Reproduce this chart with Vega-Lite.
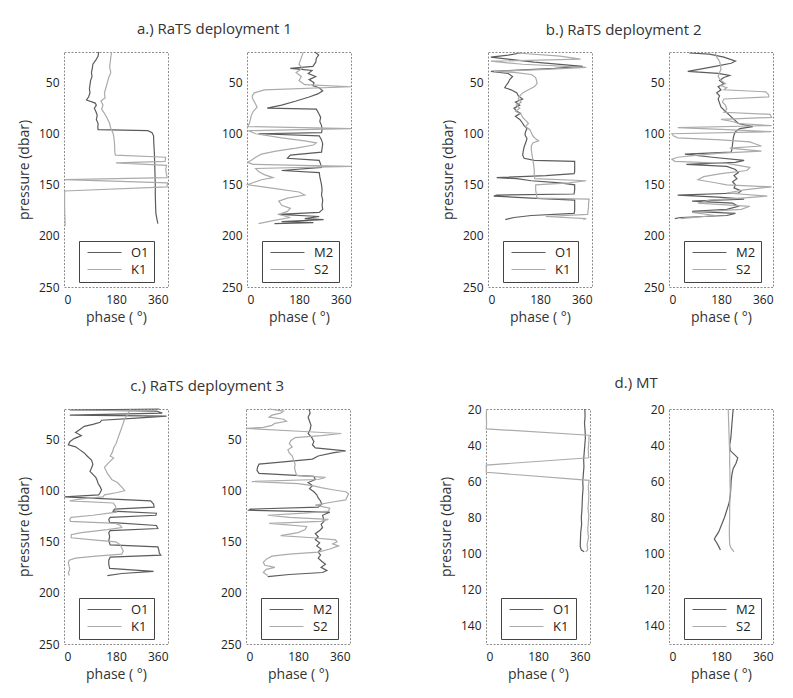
{
"$schema": "https://vega.github.io/schema/vega-lite/v6.json",
"background": "white",
"padding": {"left": 16, "top": 22, "right": 5, "bottom": 5},
"datasets": {
"aL": [
{"tide":"O1","pressure":20,"phase":120},{"tide":"O1","pressure":24,"phase":118},{"tide":"O1","pressure":28,"phase":110},{"tide":"O1","pressure":32,"phase":100},{"tide":"O1","pressure":36,"phase":98},{"tide":"O1","pressure":40,"phase":95},{"tide":"O1","pressure":44,"phase":97},{"tide":"O1","pressure":48,"phase":92},{"tide":"O1","pressure":52,"phase":90},{"tide":"O1","pressure":56,"phase":88},{"tide":"O1","pressure":60,"phase":90},{"tide":"O1","pressure":64,"phase":85},{"tide":"O1","pressure":67,"phase":78},{"tide":"O1","pressure":70,"phase":108},{"tide":"O1","pressure":72,"phase":112},{"tide":"O1","pressure":75,"phase":105},{"tide":"O1","pressure":78,"phase":110},{"tide":"O1","pressure":82,"phase":115},{"tide":"O1","pressure":86,"phase":112},{"tide":"O1","pressure":90,"phase":118},{"tide":"O1","pressure":94,"phase":117},{"tide":"O1","pressure":96,"phase":118},{"tide":"O1","pressure":97,"phase":290},{"tide":"O1","pressure":99,"phase":305},{"tide":"O1","pressure":102,"phase":310},{"tide":"O1","pressure":110,"phase":311},{"tide":"O1","pressure":120,"phase":313},{"tide":"O1","pressure":130,"phase":314},{"tide":"O1","pressure":140,"phase":315},{"tide":"O1","pressure":150,"phase":316},{"tide":"O1","pressure":160,"phase":316},{"tide":"O1","pressure":170,"phase":317},{"tide":"O1","pressure":178,"phase":318},{"tide":"O1","pressure":184,"phase":322},{"tide":"O1","pressure":188,"phase":325},
{"tide":"K1","pressure":20,"phase":165},{"tide":"K1","pressure":25,"phase":162},{"tide":"K1","pressure":30,"phase":160},{"tide":"K1","pressure":35,"phase":158},{"tide":"K1","pressure":40,"phase":162},{"tide":"K1","pressure":45,"phase":155},{"tide":"K1","pressure":50,"phase":150},{"tide":"K1","pressure":55,"phase":145},{"tide":"K1","pressure":60,"phase":140},{"tide":"K1","pressure":65,"phase":142},{"tide":"K1","pressure":68,"phase":128},{"tide":"K1","pressure":72,"phase":135},{"tide":"K1","pressure":76,"phase":130},{"tide":"K1","pressure":80,"phase":140},{"tide":"K1","pressure":85,"phase":150},{"tide":"K1","pressure":90,"phase":158},{"tide":"K1","pressure":95,"phase":162},{"tide":"K1","pressure":98,"phase":168},{"tide":"K1","pressure":102,"phase":172},{"tide":"K1","pressure":110,"phase":175},{"tide":"K1","pressure":118,"phase":176},{"tide":"K1","pressure":121,"phase":178},{"tide":"K1","pressure":123,"phase":352},{"tide":"K1","pressure":127,"phase":350},{"tide":"K1","pressure":128.5,"phase":180},{"tide":"K1","pressure":131,"phase":355},{"tide":"K1","pressure":135,"phase":352},{"tide":"K1","pressure":140,"phase":355},{"tide":"K1","pressure":143,"phase":357},{"tide":"K1","pressure":145,"phase":2},{"tide":"K1","pressure":148,"phase":358},{"tide":"K1","pressure":152,"phase":357},{"tide":"K1","pressure":156,"phase":3},{"tide":"K1","pressure":160,"phase":2},{"tide":"K1","pressure":170,"phase":2},{"tide":"K1","pressure":180,"phase":3},{"tide":"K1","pressure":190,"phase":4}
],
"aR": [
{"tide":"M2","pressure":20,"phase":235},{"tide":"M2","pressure":23,"phase":248},{"tide":"M2","pressure":26,"phase":240},{"tide":"M2","pressure":30,"phase":238},{"tide":"M2","pressure":34,"phase":228},{"tide":"M2","pressure":36,"phase":150},{"tide":"M2","pressure":38,"phase":225},{"tide":"M2","pressure":41,"phase":212},{"tide":"M2","pressure":44,"phase":238},{"tide":"M2","pressure":47,"phase":215},{"tide":"M2","pressure":50,"phase":232},{"tide":"M2","pressure":53,"phase":228},{"tide":"M2","pressure":55,"phase":250},{"tide":"M2","pressure":58,"phase":262},{"tide":"M2","pressure":61,"phase":245},{"tide":"M2","pressure":64,"phase":215},{"tide":"M2","pressure":68,"phase":170},{"tide":"M2","pressure":72,"phase":120},{"tide":"M2","pressure":75,"phase":70},{"tide":"M2","pressure":76,"phase":240},{"tide":"M2","pressure":80,"phase":248},{"tide":"M2","pressure":84,"phase":255},{"tide":"M2","pressure":88,"phase":252},{"tide":"M2","pressure":92,"phase":258},{"tide":"M2","pressure":96,"phase":260},{"tide":"M2","pressure":99,"phase":258},{"tide":"M2","pressure":100,"phase":40},{"tide":"M2","pressure":102,"phase":250},{"tide":"M2","pressure":106,"phase":258},{"tide":"M2","pressure":110,"phase":262},{"tide":"M2","pressure":114,"phase":260},{"tide":"M2","pressure":118,"phase":258},{"tide":"M2","pressure":121,"phase":150},{"tide":"M2","pressure":124,"phase":140},{"tide":"M2","pressure":126,"phase":250},{"tide":"M2","pressure":130,"phase":255},{"tide":"M2","pressure":133,"phase":258},{"tide":"M2","pressure":136,"phase":120},{"tide":"M2","pressure":138,"phase":250},{"tide":"M2","pressure":142,"phase":252},{"tide":"M2","pressure":146,"phase":255},{"tide":"M2","pressure":150,"phase":258},{"tide":"M2","pressure":155,"phase":260},{"tide":"M2","pressure":160,"phase":258},{"tide":"M2","pressure":165,"phase":262},{"tide":"M2","pressure":170,"phase":260},{"tide":"M2","pressure":174,"phase":262},{"tide":"M2","pressure":177,"phase":250},{"tide":"M2","pressure":179,"phase":110},{"tide":"M2","pressure":181,"phase":250},{"tide":"M2","pressure":183,"phase":200},{"tide":"M2","pressure":184,"phase":265},{"tide":"M2","pressure":186,"phase":120},{"tide":"M2","pressure":187,"phase":230},{"tide":"M2","pressure":188,"phase":95},
{"tide":"S2","pressure":20,"phase":195},{"tide":"S2","pressure":24,"phase":190},{"tide":"S2","pressure":28,"phase":185},{"tide":"S2","pressure":32,"phase":180},{"tide":"S2","pressure":36,"phase":192},{"tide":"S2","pressure":40,"phase":170},{"tide":"S2","pressure":44,"phase":188},{"tide":"S2","pressure":48,"phase":180},{"tide":"S2","pressure":52,"phase":200},{"tide":"S2","pressure":54,"phase":360},{"tide":"S2","pressure":57,"phase":60},{"tide":"S2","pressure":60,"phase":25},{"tide":"S2","pressure":63,"phase":18},{"tide":"S2","pressure":66,"phase":20},{"tide":"S2","pressure":70,"phase":28},{"tide":"S2","pressure":74,"phase":35},{"tide":"S2","pressure":78,"phase":22},{"tide":"S2","pressure":82,"phase":15},{"tide":"S2","pressure":86,"phase":12},{"tide":"S2","pressure":90,"phase":8},{"tide":"S2","pressure":93,"phase":2},{"tide":"S2","pressure":95,"phase":360},{"tide":"S2","pressure":97,"phase":5},{"tide":"S2","pressure":100,"phase":30},{"tide":"S2","pressure":104,"phase":120},{"tide":"S2","pressure":107,"phase":200},{"tide":"S2","pressure":109,"phase":240},{"tide":"S2","pressure":111,"phase":230},{"tide":"S2","pressure":114,"phase":170},{"tide":"S2","pressure":117,"phase":100},{"tide":"S2","pressure":120,"phase":50},{"tide":"S2","pressure":123,"phase":30},{"tide":"S2","pressure":126,"phase":15},{"tide":"S2","pressure":128,"phase":3},{"tide":"S2","pressure":130,"phase":20},{"tide":"S2","pressure":132,"phase":360},{"tide":"S2","pressure":134,"phase":30},{"tide":"S2","pressure":137,"phase":40},{"tide":"S2","pressure":140,"phase":60},{"tide":"S2","pressure":143,"phase":90},{"tide":"S2","pressure":145,"phase":50},{"tide":"S2","pressure":148,"phase":20},{"tide":"S2","pressure":150,"phase":2},{"tide":"S2","pressure":153,"phase":80},{"tide":"S2","pressure":157,"phase":180},{"tide":"S2","pressure":160,"phase":200},{"tide":"S2","pressure":163,"phase":140},{"tide":"S2","pressure":166,"phase":110},{"tide":"S2","pressure":170,"phase":120},{"tide":"S2","pressure":173,"phase":150},{"tide":"S2","pressure":176,"phase":140},{"tide":"S2","pressure":179,"phase":110},{"tide":"S2","pressure":182,"phase":150},{"tide":"S2","pressure":185,"phase":90},{"tide":"S2","pressure":188,"phase":40}
],
"bL": [
{"tide":"O1","pressure":21,"phase":112},{"tide":"O1","pressure":23,"phase":70},{"tide":"O1","pressure":25,"phase":10},{"tide":"O1","pressure":30,"phase":160},{"tide":"O1","pressure":34,"phase":328},{"tide":"O1","pressure":36,"phase":230},{"tide":"O1","pressure":39,"phase":10},{"tide":"O1","pressure":41,"phase":70},{"tide":"O1","pressure":44,"phase":85},{"tide":"O1","pressure":47,"phase":75},{"tide":"O1","pressure":50,"phase":70},{"tide":"O1","pressure":53,"phase":62},{"tide":"O1","pressure":55,"phase":58},{"tide":"O1","pressure":57,"phase":80},{"tide":"O1","pressure":60,"phase":100},{"tide":"O1","pressure":63,"phase":105},{"tide":"O1","pressure":66,"phase":120},{"tide":"O1","pressure":69,"phase":95},{"tide":"O1","pressure":72,"phase":110},{"tide":"O1","pressure":75,"phase":90},{"tide":"O1","pressure":78,"phase":100},{"tide":"O1","pressure":80,"phase":112},{"tide":"O1","pressure":83,"phase":95},{"tide":"O1","pressure":86,"phase":110},{"tide":"O1","pressure":89,"phase":118},{"tide":"O1","pressure":92,"phase":125},{"tide":"O1","pressure":95,"phase":135},{"tide":"O1","pressure":98,"phase":130},{"tide":"O1","pressure":101,"phase":128},{"tide":"O1","pressure":105,"phase":135},{"tide":"O1","pressure":109,"phase":130},{"tide":"O1","pressure":113,"phase":125},{"tide":"O1","pressure":117,"phase":122},{"tide":"O1","pressure":121,"phase":120},{"tide":"O1","pressure":124,"phase":125},{"tide":"O1","pressure":126,"phase":160},{"tide":"O1","pressure":127,"phase":300},{"tide":"O1","pressure":132,"phase":300},{"tide":"O1","pressure":137,"phase":300},{"tide":"O1","pressure":139,"phase":298},{"tide":"O1","pressure":141,"phase":200},{"tide":"O1","pressure":143,"phase":30},{"tide":"O1","pressure":144,"phase":100},{"tide":"O1","pressure":146,"phase":150},{"tide":"O1","pressure":148,"phase":250},{"tide":"O1","pressure":150,"phase":300},{"tide":"O1","pressure":155,"phase":300},{"tide":"O1","pressure":159,"phase":298},{"tide":"O1","pressure":160,"phase":30},{"tide":"O1","pressure":161,"phase":20},{"tide":"O1","pressure":163,"phase":150},{"tide":"O1","pressure":165,"phase":300},{"tide":"O1","pressure":170,"phase":300},{"tide":"O1","pressure":175,"phase":300},{"tide":"O1","pressure":178,"phase":298},{"tide":"O1","pressure":180,"phase":150},{"tide":"O1","pressure":182,"phase":90},{"tide":"O1","pressure":184,"phase":60},
{"tide":"K1","pressure":21,"phase":100},{"tide":"K1","pressure":24,"phase":250},{"tide":"K1","pressure":27,"phase":320},{"tide":"K1","pressure":29,"phase":10},{"tide":"K1","pressure":32,"phase":120},{"tide":"K1","pressure":35,"phase":340},{"tide":"K1","pressure":37,"phase":200},{"tide":"K1","pressure":39,"phase":20},{"tide":"K1","pressure":40,"phase":90},{"tide":"K1","pressure":42,"phase":150},{"tide":"K1","pressure":45,"phase":165},{"tide":"K1","pressure":48,"phase":168},{"tide":"K1","pressure":51,"phase":170},{"tide":"K1","pressure":54,"phase":160},{"tide":"K1","pressure":57,"phase":140},{"tide":"K1","pressure":60,"phase":120},{"tide":"K1","pressure":63,"phase":110},{"tide":"K1","pressure":66,"phase":105},{"tide":"K1","pressure":69,"phase":115},{"tide":"K1","pressure":72,"phase":98},{"tide":"K1","pressure":75,"phase":110},{"tide":"K1","pressure":78,"phase":95},{"tide":"K1","pressure":81,"phase":115},{"tide":"K1","pressure":84,"phase":120},{"tide":"K1","pressure":87,"phase":130},{"tide":"K1","pressure":90,"phase":140},{"tide":"K1","pressure":93,"phase":130},{"tide":"K1","pressure":96,"phase":145},{"tide":"K1","pressure":99,"phase":150},{"tide":"K1","pressure":102,"phase":155},{"tide":"K1","pressure":105,"phase":165},{"tide":"K1","pressure":107,"phase":175},{"tide":"K1","pressure":109,"phase":155},{"tide":"K1","pressure":112,"phase":150},{"tide":"K1","pressure":116,"phase":150},{"tide":"K1","pressure":120,"phase":152},{"tide":"K1","pressure":125,"phase":155},{"tide":"K1","pressure":130,"phase":158},{"tide":"K1","pressure":135,"phase":160},{"tide":"K1","pressure":140,"phase":160},{"tide":"K1","pressure":144,"phase":162},{"tide":"K1","pressure":146,"phase":340},{"tide":"K1","pressure":148,"phase":280},{"tide":"K1","pressure":150,"phase":165},{"tide":"K1","pressure":155,"phase":165},{"tide":"K1","pressure":160,"phase":168},{"tide":"K1","pressure":163,"phase":170},{"tide":"K1","pressure":164,"phase":350},{"tide":"K1","pressure":168,"phase":348},{"tide":"K1","pressure":172,"phase":348},{"tide":"K1","pressure":176,"phase":346},{"tide":"K1","pressure":179,"phase":345},{"tide":"K1","pressure":181,"phase":200},{"tide":"K1","pressure":183,"phase":340},{"tide":"K1","pressure":184,"phase":330}
],
"bR": [
{"tide":"M2","pressure":21,"phase":70},{"tide":"M2","pressure":22,"phase":140},{"tide":"M2","pressure":25,"phase":190},{"tide":"M2","pressure":29,"phase":230},{"tide":"M2","pressure":31,"phase":215},{"tide":"M2","pressure":34,"phase":160},{"tide":"M2","pressure":39,"phase":65},{"tide":"M2","pressure":41,"phase":170},{"tide":"M2","pressure":43,"phase":210},{"tide":"M2","pressure":45,"phase":190},{"tide":"M2","pressure":48,"phase":175},{"tide":"M2","pressure":51,"phase":190},{"tide":"M2","pressure":54,"phase":170},{"tide":"M2","pressure":57,"phase":180},{"tide":"M2","pressure":60,"phase":165},{"tide":"M2","pressure":63,"phase":175},{"tide":"M2","pressure":66,"phase":170},{"tide":"M2","pressure":70,"phase":175},{"tide":"M2","pressure":74,"phase":180},{"tide":"M2","pressure":78,"phase":195},{"tide":"M2","pressure":82,"phase":210},{"tide":"M2","pressure":86,"phase":225},{"tide":"M2","pressure":90,"phase":240},{"tide":"M2","pressure":93,"phase":290},{"tide":"M2","pressure":95,"phase":245},{"tide":"M2","pressure":98,"phase":230},{"tide":"M2","pressure":101,"phase":225},{"tide":"M2","pressure":105,"phase":222},{"tide":"M2","pressure":110,"phase":220},{"tide":"M2","pressure":115,"phase":218},{"tide":"M2","pressure":118,"phase":215},{"tide":"M2","pressure":120,"phase":55},{"tide":"M2","pressure":123,"phase":150},{"tide":"M2","pressure":126,"phase":260},{"tide":"M2","pressure":128,"phase":230},{"tide":"M2","pressure":130,"phase":60},{"tide":"M2","pressure":132,"phase":200},{"tide":"M2","pressure":135,"phase":230},{"tide":"M2","pressure":138,"phase":240},{"tide":"M2","pressure":141,"phase":225},{"tide":"M2","pressure":144,"phase":235},{"tide":"M2","pressure":147,"phase":220},{"tide":"M2","pressure":150,"phase":230},{"tide":"M2","pressure":153,"phase":225},{"tide":"M2","pressure":156,"phase":250},{"tide":"M2","pressure":158,"phase":240},{"tide":"M2","pressure":160,"phase":30},{"tide":"M2","pressure":162,"phase":170},{"tide":"M2","pressure":164,"phase":260},{"tide":"M2","pressure":166,"phase":80},{"tide":"M2","pressure":168,"phase":220},{"tide":"M2","pressure":171,"phase":240},{"tide":"M2","pressure":174,"phase":200},{"tide":"M2","pressure":176,"phase":80},{"tide":"M2","pressure":178,"phase":230},{"tide":"M2","pressure":180,"phase":200},{"tide":"M2","pressure":182,"phase":40},{"tide":"M2","pressure":183,"phase":20},
{"tide":"S2","pressure":21,"phase":160},{"tide":"S2","pressure":25,"phase":165},{"tide":"S2","pressure":29,"phase":175},{"tide":"S2","pressure":33,"phase":178},{"tide":"S2","pressure":37,"phase":180},{"tide":"S2","pressure":40,"phase":175},{"tide":"S2","pressure":44,"phase":170},{"tide":"S2","pressure":48,"phase":180},{"tide":"S2","pressure":51,"phase":195},{"tide":"S2","pressure":53,"phase":180},{"tide":"S2","pressure":55,"phase":200},{"tide":"S2","pressure":57,"phase":190},{"tide":"S2","pressure":59,"phase":335},{"tide":"S2","pressure":62,"phase":345},{"tide":"S2","pressure":64,"phase":345},{"tide":"S2","pressure":66,"phase":190},{"tide":"S2","pressure":69,"phase":185},{"tide":"S2","pressure":72,"phase":195},{"tide":"S2","pressure":76,"phase":200},{"tide":"S2","pressure":79,"phase":190},{"tide":"S2","pressure":81,"phase":350},{"tide":"S2","pressure":84,"phase":355},{"tide":"S2","pressure":86,"phase":180},{"tide":"S2","pressure":88,"phase":220},{"tide":"S2","pressure":90,"phase":240},{"tide":"S2","pressure":92,"phase":355},{"tide":"S2","pressure":94,"phase":30},{"tide":"S2","pressure":96,"phase":200},{"tide":"S2","pressure":98,"phase":355},{"tide":"S2","pressure":100,"phase":10},{"tide":"S2","pressure":102,"phase":15},{"tide":"S2","pressure":104,"phase":30},{"tide":"S2","pressure":106,"phase":180},{"tide":"S2","pressure":108,"phase":280},{"tide":"S2","pressure":110,"phase":300},{"tide":"S2","pressure":112,"phase":320},{"tide":"S2","pressure":114,"phase":210},{"tide":"S2","pressure":117,"phase":320},{"tide":"S2","pressure":119,"phase":180},{"tide":"S2","pressure":121,"phase":100},{"tide":"S2","pressure":123,"phase":30},{"tide":"S2","pressure":125,"phase":10},{"tide":"S2","pressure":127,"phase":20},{"tide":"S2","pressure":129,"phase":200},{"tide":"S2","pressure":131,"phase":240},{"tide":"S2","pressure":133,"phase":280},{"tide":"S2","pressure":136,"phase":270},{"tide":"S2","pressure":139,"phase":180},{"tide":"S2","pressure":142,"phase":120},{"tide":"S2","pressure":145,"phase":100},{"tide":"S2","pressure":148,"phase":160},{"tide":"S2","pressure":150,"phase":200},{"tide":"S2","pressure":152,"phase":355},{"tide":"S2","pressure":155,"phase":260},{"tide":"S2","pressure":158,"phase":200},{"tide":"S2","pressure":161,"phase":340},{"tide":"S2","pressure":163,"phase":250},{"tide":"S2","pressure":165,"phase":140},{"tide":"S2","pressure":168,"phase":100},{"tide":"S2","pressure":171,"phase":280},{"tide":"S2","pressure":174,"phase":250},{"tide":"S2","pressure":177,"phase":80},{"tide":"S2","pressure":180,"phase":160},{"tide":"S2","pressure":183,"phase":40}
],
"cL": [
{"tide":"O1","pressure":20,"phase":330},{"tide":"O1","pressure":21,"phase":20},{"tide":"O1","pressure":22,"phase":320},{"tide":"O1","pressure":24,"phase":340},{"tide":"O1","pressure":26,"phase":20},{"tide":"O1","pressure":27,"phase":355},{"tide":"O1","pressure":29,"phase":250},{"tide":"O1","pressure":31,"phase":130},{"tide":"O1","pressure":33,"phase":125},{"tide":"O1","pressure":35,"phase":100},{"tide":"O1","pressure":37,"phase":70},{"tide":"O1","pressure":40,"phase":55},{"tide":"O1","pressure":43,"phase":40},{"tide":"O1","pressure":46,"phase":60},{"tide":"O1","pressure":49,"phase":35},{"tide":"O1","pressure":52,"phase":20},{"tide":"O1","pressure":55,"phase":15},{"tide":"O1","pressure":57,"phase":40},{"tide":"O1","pressure":60,"phase":55},{"tide":"O1","pressure":63,"phase":70},{"tide":"O1","pressure":66,"phase":80},{"tide":"O1","pressure":70,"phase":95},{"tide":"O1","pressure":74,"phase":100},{"tide":"O1","pressure":78,"phase":95},{"tide":"O1","pressure":81,"phase":90},{"tide":"O1","pressure":84,"phase":100},{"tide":"O1","pressure":87,"phase":110},{"tide":"O1","pressure":90,"phase":115},{"tide":"O1","pressure":93,"phase":118},{"tide":"O1","pressure":96,"phase":125},{"tide":"O1","pressure":99,"phase":130},{"tide":"O1","pressure":102,"phase":125},{"tide":"O1","pressure":104,"phase":120},{"tide":"O1","pressure":106,"phase":2},{"tide":"O1","pressure":108,"phase":150},{"tide":"O1","pressure":110,"phase":300},{"tide":"O1","pressure":113,"phase":310},{"tide":"O1","pressure":116,"phase":312},{"tide":"O1","pressure":118,"phase":175},{"tide":"O1","pressure":120,"phase":170},{"tide":"O1","pressure":122,"phase":320},{"tide":"O1","pressure":124,"phase":318},{"tide":"O1","pressure":126,"phase":160},{"tide":"O1","pressure":128,"phase":155},{"tide":"O1","pressure":131,"phase":158},{"tide":"O1","pressure":134,"phase":320},{"tide":"O1","pressure":137,"phase":325},{"tide":"O1","pressure":139,"phase":160},{"tide":"O1","pressure":141,"phase":155},{"tide":"O1","pressure":145,"phase":158},{"tide":"O1","pressure":149,"phase":155},{"tide":"O1","pressure":153,"phase":160},{"tide":"O1","pressure":155,"phase":325},{"tide":"O1","pressure":158,"phase":328},{"tide":"O1","pressure":161,"phase":330},{"tide":"O1","pressure":163,"phase":335},{"tide":"O1","pressure":165,"phase":160},{"tide":"O1","pressure":168,"phase":155},{"tide":"O1","pressure":172,"phase":155},{"tide":"O1","pressure":176,"phase":158},{"tide":"O1","pressure":179,"phase":310},{"tide":"O1","pressure":181,"phase":200},{"tide":"O1","pressure":183,"phase":150},
{"tide":"K1","pressure":20,"phase":230},{"tide":"K1","pressure":23,"phase":225},{"tide":"K1","pressure":26,"phase":218},{"tide":"K1","pressure":30,"phase":210},{"tide":"K1","pressure":34,"phase":205},{"tide":"K1","pressure":38,"phase":200},{"tide":"K1","pressure":42,"phase":195},{"tide":"K1","pressure":46,"phase":190},{"tide":"K1","pressure":50,"phase":185},{"tide":"K1","pressure":54,"phase":180},{"tide":"K1","pressure":58,"phase":172},{"tide":"K1","pressure":62,"phase":168},{"tide":"K1","pressure":66,"phase":160},{"tide":"K1","pressure":68,"phase":172},{"tide":"K1","pressure":71,"phase":160},{"tide":"K1","pressure":74,"phase":150},{"tide":"K1","pressure":77,"phase":140},{"tide":"K1","pressure":80,"phase":145},{"tide":"K1","pressure":83,"phase":150},{"tide":"K1","pressure":86,"phase":158},{"tide":"K1","pressure":89,"phase":165},{"tide":"K1","pressure":92,"phase":185},{"tide":"K1","pressure":95,"phase":195},{"tide":"K1","pressure":98,"phase":205},{"tide":"K1","pressure":100,"phase":210},{"tide":"K1","pressure":102,"phase":180},{"tide":"K1","pressure":104,"phase":140},{"tide":"K1","pressure":106,"phase":135},{"tide":"K1","pressure":108,"phase":60},{"tide":"K1","pressure":110,"phase":20},{"tide":"K1","pressure":112,"phase":170},{"tide":"K1","pressure":115,"phase":178},{"tide":"K1","pressure":118,"phase":180},{"tide":"K1","pressure":121,"phase":182},{"tide":"K1","pressure":124,"phase":100},{"tide":"K1","pressure":126,"phase":25},{"tide":"K1","pressure":128,"phase":20},{"tide":"K1","pressure":130,"phase":22},{"tide":"K1","pressure":132,"phase":180},{"tide":"K1","pressure":134,"phase":195},{"tide":"K1","pressure":136,"phase":200},{"tide":"K1","pressure":138,"phase":150},{"tide":"K1","pressure":141,"phase":60},{"tide":"K1","pressure":143,"phase":25},{"tide":"K1","pressure":146,"phase":25},{"tide":"K1","pressure":148,"phase":100},{"tide":"K1","pressure":150,"phase":180},{"tide":"K1","pressure":153,"phase":195},{"tide":"K1","pressure":156,"phase":200},{"tide":"K1","pressure":159,"phase":205},{"tide":"K1","pressure":162,"phase":200},{"tide":"K1","pressure":164,"phase":110},{"tide":"K1","pressure":166,"phase":40},{"tide":"K1","pressure":168,"phase":18},{"tide":"K1","pressure":171,"phase":15},{"tide":"K1","pressure":174,"phase":18},{"tide":"K1","pressure":177,"phase":20},{"tide":"K1","pressure":180,"phase":15},{"tide":"K1","pressure":183,"phase":18}
],
"cR": [
{"tide":"M2","pressure":20,"phase":218},{"tide":"M2","pressure":24,"phase":222},{"tide":"M2","pressure":28,"phase":215},{"tide":"M2","pressure":32,"phase":220},{"tide":"M2","pressure":36,"phase":225},{"tide":"M2","pressure":40,"phase":222},{"tide":"M2","pressure":44,"phase":215},{"tide":"M2","pressure":48,"phase":228},{"tide":"M2","pressure":52,"phase":235},{"tide":"M2","pressure":55,"phase":230},{"tide":"M2","pressure":58,"phase":240},{"tide":"M2","pressure":61,"phase":345},{"tide":"M2","pressure":63,"phase":300},{"tide":"M2","pressure":66,"phase":250},{"tide":"M2","pressure":69,"phase":230},{"tide":"M2","pressure":72,"phase":120},{"tide":"M2","pressure":74,"phase":45},{"tide":"M2","pressure":77,"phase":40},{"tide":"M2","pressure":80,"phase":38},{"tide":"M2","pressure":83,"phase":45},{"tide":"M2","pressure":86,"phase":235},{"tide":"M2","pressure":89,"phase":240},{"tide":"M2","pressure":92,"phase":215},{"tide":"M2","pressure":95,"phase":230},{"tide":"M2","pressure":98,"phase":220},{"tide":"M2","pressure":101,"phase":235},{"tide":"M2","pressure":104,"phase":245},{"tide":"M2","pressure":107,"phase":250},{"tide":"M2","pressure":110,"phase":258},{"tide":"M2","pressure":113,"phase":262},{"tide":"M2","pressure":116,"phase":250},{"tide":"M2","pressure":118,"phase":15},{"tide":"M2","pressure":119,"phase":10},{"tide":"M2","pressure":121,"phase":290},{"tide":"M2","pressure":124,"phase":265},{"tide":"M2","pressure":127,"phase":268},{"tide":"M2","pressure":130,"phase":270},{"tide":"M2","pressure":133,"phase":260},{"tide":"M2","pressure":136,"phase":265},{"tide":"M2","pressure":139,"phase":255},{"tide":"M2","pressure":142,"phase":240},{"tide":"M2","pressure":145,"phase":250},{"tide":"M2","pressure":148,"phase":240},{"tide":"M2","pressure":151,"phase":255},{"tide":"M2","pressure":154,"phase":245},{"tide":"M2","pressure":157,"phase":260},{"tide":"M2","pressure":160,"phase":250},{"tide":"M2","pressure":163,"phase":258},{"tide":"M2","pressure":166,"phase":250},{"tide":"M2","pressure":169,"phase":262},{"tide":"M2","pressure":172,"phase":275},{"tide":"M2","pressure":175,"phase":260},{"tide":"M2","pressure":178,"phase":280},{"tide":"M2","pressure":180,"phase":265},{"tide":"M2","pressure":182,"phase":150},{"tide":"M2","pressure":184,"phase":75},
{"tide":"S2","pressure":20,"phase":80},{"tide":"S2","pressure":22,"phase":130},{"tide":"S2","pressure":24,"phase":120},{"tide":"S2","pressure":26,"phase":90},{"tide":"S2","pressure":28,"phase":80},{"tide":"S2","pressure":30,"phase":130},{"tide":"S2","pressure":32,"phase":140},{"tide":"S2","pressure":34,"phase":100},{"tide":"S2","pressure":36,"phase":90},{"tide":"S2","pressure":38,"phase":60},{"tide":"S2","pressure":39,"phase":2},{"tide":"S2","pressure":42,"phase":200},{"tide":"S2","pressure":44,"phase":330},{"tide":"S2","pressure":46,"phase":260},{"tide":"S2","pressure":48,"phase":170},{"tide":"S2","pressure":51,"phase":155},{"tide":"S2","pressure":54,"phase":150},{"tide":"S2","pressure":57,"phase":160},{"tide":"S2","pressure":60,"phase":145},{"tide":"S2","pressure":63,"phase":150},{"tide":"S2","pressure":66,"phase":160},{"tide":"S2","pressure":70,"phase":165},{"tide":"S2","pressure":74,"phase":170},{"tide":"S2","pressure":78,"phase":168},{"tide":"S2","pressure":82,"phase":172},{"tide":"S2","pressure":85,"phase":175},{"tide":"S2","pressure":87,"phase":275},{"tide":"S2","pressure":89,"phase":250},{"tide":"S2","pressure":91,"phase":20},{"tide":"S2","pressure":93,"phase":180},{"tide":"S2","pressure":95,"phase":230},{"tide":"S2","pressure":97,"phase":260},{"tide":"S2","pressure":99,"phase":300},{"tide":"S2","pressure":101,"phase":345},{"tide":"S2","pressure":103,"phase":355},{"tide":"S2","pressure":106,"phase":350},{"tide":"S2","pressure":109,"phase":345},{"tide":"S2","pressure":111,"phase":300},{"tide":"S2","pressure":114,"phase":240},{"tide":"S2","pressure":117,"phase":290},{"tide":"S2","pressure":120,"phase":285},{"tide":"S2","pressure":122,"phase":200},{"tide":"S2","pressure":124,"phase":75},{"tide":"S2","pressure":126,"phase":150},{"tide":"S2","pressure":128,"phase":285},{"tide":"S2","pressure":130,"phase":260},{"tide":"S2","pressure":132,"phase":80},{"tide":"S2","pressure":135,"phase":210},{"tide":"S2","pressure":138,"phase":205},{"tide":"S2","pressure":141,"phase":180},{"tide":"S2","pressure":144,"phase":120},{"tide":"S2","pressure":146,"phase":230},{"tide":"S2","pressure":148,"phase":310},{"tide":"S2","pressure":150,"phase":315},{"tide":"S2","pressure":152,"phase":300},{"tide":"S2","pressure":154,"phase":320},{"tide":"S2","pressure":157,"phase":290},{"tide":"S2","pressure":160,"phase":250},{"tide":"S2","pressure":162,"phase":150},{"tide":"S2","pressure":164,"phase":90},{"tide":"S2","pressure":167,"phase":70},{"tide":"S2","pressure":170,"phase":60},{"tide":"S2","pressure":173,"phase":65},{"tide":"S2","pressure":175,"phase":100},{"tide":"S2","pressure":177,"phase":70},{"tide":"S2","pressure":180,"phase":60},{"tide":"S2","pressure":183,"phase":75}
],
"dL": [
{"tide":"O1","pressure":20,"phase":342},{"tide":"O1","pressure":24,"phase":343},{"tide":"O1","pressure":28,"phase":341},{"tide":"O1","pressure":32,"phase":343},{"tide":"O1","pressure":36,"phase":344},{"tide":"O1","pressure":40,"phase":342},{"tide":"O1","pressure":44,"phase":340},{"tide":"O1","pressure":48,"phase":338},{"tide":"O1","pressure":52,"phase":339},{"tide":"O1","pressure":56,"phase":337},{"tide":"O1","pressure":60,"phase":335},{"tide":"O1","pressure":64,"phase":336},{"tide":"O1","pressure":68,"phase":334},{"tide":"O1","pressure":72,"phase":333},{"tide":"O1","pressure":76,"phase":332},{"tide":"O1","pressure":80,"phase":330},{"tide":"O1","pressure":84,"phase":331},{"tide":"O1","pressure":88,"phase":328},{"tide":"O1","pressure":92,"phase":327},{"tide":"O1","pressure":96,"phase":326},{"tide":"O1","pressure":98,"phase":330},{"tide":"O1","pressure":99,"phase":340},
{"tide":"K1","pressure":20,"phase":2},{"tide":"K1","pressure":24,"phase":1},{"tide":"K1","pressure":28,"phase":2},{"tide":"K1","pressure":31,"phase":1},{"tide":"K1","pressure":34.5,"phase":357},{"tide":"K1","pressure":38,"phase":356},{"tide":"K1","pressure":42,"phase":354},{"tide":"K1","pressure":46,"phase":355},{"tide":"K1","pressure":47,"phase":356},{"tide":"K1","pressure":51,"phase":1},{"tide":"K1","pressure":55,"phase":1},{"tide":"K1","pressure":59.5,"phase":357},{"tide":"K1","pressure":63,"phase":354},{"tide":"K1","pressure":67,"phase":356},{"tide":"K1","pressure":71,"phase":355},{"tide":"K1","pressure":75,"phase":353},{"tide":"K1","pressure":79,"phase":356},{"tide":"K1","pressure":83,"phase":354},{"tide":"K1","pressure":87,"phase":352},{"tide":"K1","pressure":91,"phase":355},{"tide":"K1","pressure":95,"phase":350},{"tide":"K1","pressure":98,"phase":352},{"tide":"K1","pressure":99,"phase":345}
],
"dR": [
{"tide":"M2","pressure":20,"phase":222},{"tide":"M2","pressure":24,"phase":220},{"tide":"M2","pressure":28,"phase":218},{"tide":"M2","pressure":32,"phase":216},{"tide":"M2","pressure":36,"phase":214},{"tide":"M2","pressure":40,"phase":210},{"tide":"M2","pressure":43,"phase":212},{"tide":"M2","pressure":45,"phase":225},{"tide":"M2","pressure":47,"phase":238},{"tide":"M2","pressure":50,"phase":232},{"tide":"M2","pressure":53,"phase":222},{"tide":"M2","pressure":56,"phase":218},{"tide":"M2","pressure":60,"phase":215},{"tide":"M2","pressure":64,"phase":214},{"tide":"M2","pressure":68,"phase":212},{"tide":"M2","pressure":72,"phase":208},{"tide":"M2","pressure":76,"phase":200},{"tide":"M2","pressure":80,"phase":192},{"tide":"M2","pressure":84,"phase":182},{"tide":"M2","pressure":88,"phase":172},{"tide":"M2","pressure":91,"phase":160},{"tide":"M2","pressure":92,"phase":157},{"tide":"M2","pressure":94,"phase":165},{"tide":"M2","pressure":96,"phase":172},{"tide":"M2","pressure":98,"phase":178},
{"tide":"S2","pressure":20,"phase":205},{"tide":"S2","pressure":25,"phase":206},{"tide":"S2","pressure":30,"phase":207},{"tide":"S2","pressure":35,"phase":208},{"tide":"S2","pressure":40,"phase":209},{"tide":"S2","pressure":45,"phase":210},{"tide":"S2","pressure":50,"phase":210},{"tide":"S2","pressure":55,"phase":211},{"tide":"S2","pressure":60,"phase":211},{"tide":"S2","pressure":65,"phase":212},{"tide":"S2","pressure":70,"phase":211},{"tide":"S2","pressure":75,"phase":210},{"tide":"S2","pressure":80,"phase":210},{"tide":"S2","pressure":85,"phase":209},{"tide":"S2","pressure":90,"phase":209},{"tide":"S2","pressure":95,"phase":210},{"tide":"S2","pressure":97,"phase":215},{"tide":"S2","pressure":99,"phase":225}
]
},
"vconcat": [
{"hconcat": [
 {"title": {"text": "a.) RaTS deployment 1", "dx": 29}, "spacing": 49, "resolve": {"scale": {"color": "independent", "x": "independent", "y": "independent"}, "legend": {"color": "independent"}},
  "hconcat": [
  {"width": 104, "height": 235, "data": {"name": "aL"}, "mark": {"type": "line"},
   "encoding": {
    "x": {"field": "phase", "type": "quantitative", "scale": {"domain": [0, 360], "nice": false}, "axis": {"values": [0, 180, 360], "title": "phase ( °)"}},
    "y": {"field": "pressure", "type": "quantitative", "scale": {"domain": [20, 250], "reverse": true, "nice": false, "zero": false}, "axis": {"values": [50, 100, 150, 200, 250], "title": "pressure (dbar)"}},
    "color": {"field": "tide", "type": "nominal", "scale": {"domain": ["O1", "K1"], "range": ["#5c5c5c", "#ababab"]}, "legend": {"orient": "none", "legendX": 15, "legendY": 189, "title": null, "labelOffset": 20, "symbolOffset": 14}},
    "order": {"field": "pressure", "type": "quantitative"}}},
  {"width": 104, "height": 235, "data": {"name": "aR"}, "mark": {"type": "line"},
   "encoding": {
    "x": {"field": "phase", "type": "quantitative", "scale": {"domain": [0, 360], "nice": false}, "axis": {"values": [0, 180, 360], "title": "phase ( °)"}},
    "y": {"field": "pressure", "type": "quantitative", "scale": {"domain": [20, 250], "reverse": true, "nice": false, "zero": false}, "axis": {"values": [50, 100, 150, 200, 250], "title": null}},
    "color": {"field": "tide", "type": "nominal", "scale": {"domain": ["M2", "S2"], "range": ["#5c5c5c", "#ababab"]}, "legend": {"orient": "none", "legendX": 15, "legendY": 189, "title": null, "labelOffset": 20, "symbolOffset": 14}},
    "order": {"field": "pressure", "type": "quantitative"}}}
 ]},
 {"title": {"text": "b.) RaTS deployment 2", "dx": 16}, "spacing": 49, "resolve": {"scale": {"color": "independent", "x": "independent", "y": "independent"}, "legend": {"color": "independent"}},
  "hconcat": [
  {"width": 104, "height": 235, "data": {"name": "bL"}, "mark": {"type": "line"},
   "encoding": {
    "x": {"field": "phase", "type": "quantitative", "scale": {"domain": [0, 360], "nice": false}, "axis": {"values": [0, 180, 360], "title": "phase ( °)"}},
    "y": {"field": "pressure", "type": "quantitative", "scale": {"domain": [20, 250], "reverse": true, "nice": false, "zero": false}, "axis": {"values": [50, 100, 150, 200, 250], "title": "pressure (dbar)"}},
    "color": {"field": "tide", "type": "nominal", "scale": {"domain": ["O1", "K1"], "range": ["#5c5c5c", "#ababab"]}, "legend": {"orient": "none", "legendX": 15, "legendY": 189, "title": null, "labelOffset": 20, "symbolOffset": 14}},
    "order": {"field": "pressure", "type": "quantitative"}}},
  {"width": 104, "height": 235, "data": {"name": "bR"}, "mark": {"type": "line"},
   "encoding": {
    "x": {"field": "phase", "type": "quantitative", "scale": {"domain": [0, 360], "nice": false}, "axis": {"values": [0, 180, 360], "title": "phase ( °)"}},
    "y": {"field": "pressure", "type": "quantitative", "scale": {"domain": [20, 250], "reverse": true, "nice": false, "zero": false}, "axis": {"values": [50, 100, 150, 200, 250], "title": null}},
    "color": {"field": "tide", "type": "nominal", "scale": {"domain": ["M2", "S2"], "range": ["#5c5c5c", "#ababab"]}, "legend": {"orient": "none", "legendX": 15, "legendY": 189, "title": null, "labelOffset": 20, "symbolOffset": 14}},
    "order": {"field": "pressure", "type": "quantitative"}}}
 ]}
], "spacing": 86, "resolve": {"scale": {"color": "independent", "x": "independent", "y": "independent"}, "legend": {"color": "independent"}}},
{"hconcat": [
 {"title": {"text": "c.) RaTS deployment 3", "dx": 23}, "spacing": 49, "resolve": {"scale": {"color": "independent", "x": "independent", "y": "independent"}, "legend": {"color": "independent"}},
  "hconcat": [
  {"width": 104, "height": 235, "data": {"name": "cL"}, "mark": {"type": "line"},
   "encoding": {
    "x": {"field": "phase", "type": "quantitative", "scale": {"domain": [0, 360], "nice": false}, "axis": {"values": [0, 180, 360], "title": "phase ( °)"}},
    "y": {"field": "pressure", "type": "quantitative", "scale": {"domain": [20, 250], "reverse": true, "nice": false, "zero": false}, "axis": {"values": [50, 100, 150, 200, 250], "title": "pressure (dbar)"}},
    "color": {"field": "tide", "type": "nominal", "scale": {"domain": ["O1", "K1"], "range": ["#5c5c5c", "#ababab"]}, "legend": {"orient": "none", "legendX": 15, "legendY": 189, "title": null, "labelOffset": 20, "symbolOffset": 14}},
    "order": {"field": "pressure", "type": "quantitative"}}},
  {"width": 104, "height": 235, "data": {"name": "cR"}, "mark": {"type": "line"},
   "encoding": {
    "x": {"field": "phase", "type": "quantitative", "scale": {"domain": [0, 360], "nice": false}, "axis": {"values": [0, 180, 360], "title": "phase ( °)"}},
    "y": {"field": "pressure", "type": "quantitative", "scale": {"domain": [20, 250], "reverse": true, "nice": false, "zero": false}, "axis": {"values": [50, 100, 150, 200, 250], "title": null}},
    "color": {"field": "tide", "type": "nominal", "scale": {"domain": ["M2", "S2"], "range": ["#5c5c5c", "#ababab"]}, "legend": {"orient": "none", "legendX": 15, "legendY": 189, "title": null, "labelOffset": 20, "symbolOffset": 14}},
    "order": {"field": "pressure", "type": "quantitative"}}}
 ]},
 {"title": {"text": "d.) MT", "dx": 30}, "spacing": 49, "resolve": {"scale": {"color": "independent", "x": "independent", "y": "independent"}, "legend": {"color": "independent"}},
  "hconcat": [
  {"width": 104, "height": 235, "data": {"name": "dL"}, "mark": {"type": "line"},
   "encoding": {
    "x": {"field": "phase", "type": "quantitative", "scale": {"domain": [0, 360], "nice": false}, "axis": {"values": [0, 180, 360], "title": "phase ( °)"}},
    "y": {"field": "pressure", "type": "quantitative", "scale": {"domain": [20, 150], "reverse": true, "nice": false, "zero": false}, "axis": {"values": [20, 40, 60, 80, 100, 120, 140], "title": "pressure (dbar)"}},
    "color": {"field": "tide", "type": "nominal", "scale": {"domain": ["O1", "K1"], "range": ["#5c5c5c", "#ababab"]}, "legend": {"orient": "none", "legendX": 15, "legendY": 189, "title": null, "labelOffset": 20, "symbolOffset": 14}},
    "order": {"field": "pressure", "type": "quantitative"}}},
  {"width": 104, "height": 235, "data": {"name": "dR"}, "mark": {"type": "line"},
   "encoding": {
    "x": {"field": "phase", "type": "quantitative", "scale": {"domain": [0, 360], "nice": false}, "axis": {"values": [0, 180, 360], "title": "phase ( °)"}},
    "y": {"field": "pressure", "type": "quantitative", "scale": {"domain": [20, 150], "reverse": true, "nice": false, "zero": false}, "axis": {"values": [20, 40, 60, 80, 100, 120, 140], "title": null}},
    "color": {"field": "tide", "type": "nominal", "scale": {"domain": ["M2", "S2"], "range": ["#5c5c5c", "#ababab"]}, "legend": {"orient": "none", "legendX": 15, "legendY": 189, "title": null, "labelOffset": 20, "symbolOffset": 14}},
    "order": {"field": "pressure", "type": "quantitative"}}}
 ]}
], "spacing": 86, "resolve": {"scale": {"color": "independent", "x": "independent", "y": "independent"}, "legend": {"color": "independent"}}}
],
"spacing": 50,
"resolve": {"scale": {"color": "independent", "x": "independent", "y": "independent"}, "legend": {"color": "independent"}},
"config": {
 "font": "Open Sans",
 "view": {"stroke": "#8c8c8c", "strokeWidth": 1, "strokeDash": [2, 1.5]},
 "line": {"strokeWidth": 1.2},
 "axis": {"domain": false, "ticks": false, "grid": false, "labelFont": "Open Sans", "labelFontSize": 12, "labelColor": "#222", "titleFont": "Open Sans", "titleFontSize": 14, "titleFontWeight": "normal", "titleColor": "#333"},
 "axisX": {"labelPadding": 7, "titlePadding": 5},
 "axisY": {"labelPadding": 5, "titlePadding": 7},
 "title": {"fontSize": 15, "fontWeight": "normal", "color": "#333", "offset": 12, "font": "Open Sans", "anchor": "middle"},
 "legend": {"fillColor": "white", "strokeColor": "#444", "padding": 5, "symbolType": "M-3,0H3", "symbolSize": 128, "symbolStrokeWidth": 1.2, "labelFontSize": 13, "labelFont": "Open Sans", "labelColor": "#222", "rowPadding": 3}
}
}
